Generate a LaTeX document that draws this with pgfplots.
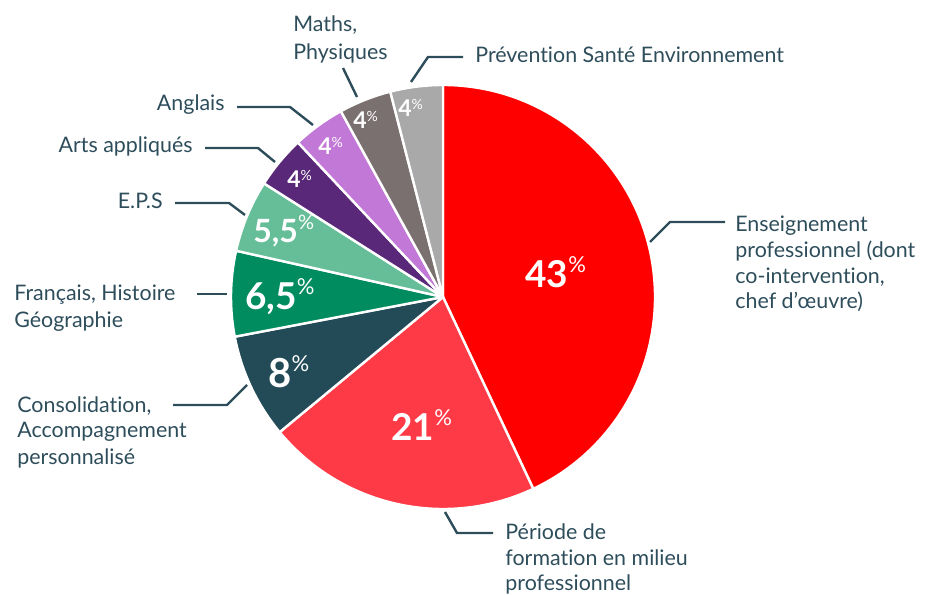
\documentclass[border=0pt]{standalone}
\usepackage{fontspec}
\setmainfont{Lato}[Ligatures={NoCommon}]
\usepackage{pgfplots}
\usepackage{pgfplotstable}
\pgfplotsset{compat=1.18}
\definecolor{c1}{HTML}{FF0000}
\definecolor{c2}{HTML}{FF3A47}
\definecolor{c3}{HTML}{234B57}
\definecolor{c4}{HTML}{008C5F}
\definecolor{c5}{HTML}{66BE99}
\definecolor{c6}{HTML}{5A2878}
\definecolor{c7}{HTML}{C278D6}
\definecolor{c8}{HTML}{7A7070}
\definecolor{c9}{HTML}{A9A9A9}
\definecolor{txt}{HTML}{2E4D5B}
\pgfplotstableread{
value color
43 c1
21 c2
8 c3
6.5 c4
5.5 c5
4 c6
4 c7
4 c8
4 c9
}\piedata
\newcommand\pct[5]{\node[anchor=base west, inner sep=0pt, text=white, font=\bfseries\fontsize{#3}{#3}\selectfont] at (axis cs:#1) {#2\raisebox{#5}{\mdseries\fontsize{#4}{#4}\selectfont\%}};}
\newcommand\lab[3]{\node[anchor=base #1, inner sep=0pt, text=txt, font=\fontsize{10.7}{12}\selectfont] at (axis cs:#2) {#3};}
\begin{document}
\begin{tikzpicture}
\begin{axis}[name=ax, scale only axis, width=468pt, height=297pt,
  xmin=0, xmax=936, ymin=0, ymax=594, hide axis, clip=false]
\pgfplotsextra{
  \pgfplotstablegetrowsof{\piedata}
  \pgfmathtruncatemacro\nrows{\pgfplotsretval-1}
  \xdef\startang{90}
  \foreach \i in {0,...,\nrows}{
    \pgfplotstablegetelem{\i}{value}\of\piedata \let\v\pgfplotsretval
    \pgfplotstablegetelem{\i}{color}\of\piedata \let\c\pgfplotsretval
    \pgfmathsetmacro\endang{\startang-3.6*\v}
    \fill[fill=\c, draw=white, line width=1.2pt, line join=round]
      (axis cs:443,297) -- ++(\startang:106pt)
      arc[start angle=\startang, end angle=\endang, radius=106pt] -- cycle;
    \xdef\startang{\endang}
  }
}
% percentages
\pct{525,306}{43}{18.5}{11}{7.5pt}
\pct{391,154}{21}{18.5}{11}{7.5pt}
\pct{268,206}{8}{20}{11}{8pt}
\pct{245,284}{6,5}{18.5}{11}{7.5pt}
\pct{253,351}{5,5}{16}{10}{6.5pt}
\pct{287,406}{4}{11.5}{7}{3.5pt}
\pct{318,439}{4}{11.5}{7}{3.5pt}
\pct{353,465}{4}{11.5}{7}{3.5pt}
\pct{398,477}{4}{11.5}{7}{3.5pt}
% leader lines
\begin{scope}[draw=txt, line width=1.2pt]
\draw (axis cs:411,512) -- (axis cs:428,537) -- (axis cs:463,537);
\draw (axis cs:357,497) -- (axis cs:343,526);
\draw (axis cs:237,487) -- (axis cs:290,487) -- (axis cs:313,469);
\draw (axis cs:205,446) -- (axis cs:258,446) -- (axis cs:275,432);
\draw (axis cs:175,391) -- (axis cs:229,391) -- (axis cs:245,379);
\draw (axis cs:197,300) -- (axis cs:227,300);
\draw (axis cs:173,189) -- (axis cs:227,189) -- (axis cs:247,209);
\draw (axis cs:445,82) -- (axis cs:457,61) -- (axis cs:493,61);
\draw (axis cs:650,352) -- (axis cs:670,372) -- (axis cs:725,372);
\end{scope}
% labels
\lab{west}{293,562}{Maths,}
\lab{west}{293,534}{Physiques}
\lab{west}{475,531}{Prévention Santé Environnement}
\lab{east}{225,483}{Anglais}
\lab{east}{193,441}{Arts appliqués}
\lab{east}{163,385}{E.P.S}
\lab{west}{14,293}{Français, Histoire}
\lab{west}{14,266}{Géographie}
\lab{west}{17,182}{Consolidation,}
\lab{west}{17,156}{Accompagnement}
\lab{west}{17,130}{personnalisé}
\lab{west}{505,55}{Période de}
\lab{west}{505,29}{formation en milieu}
\lab{west}{505,4}{professionnel}
\lab{west}{735,362}{Enseignement}
\lab{west}{735,336}{professionnel (dont}
\lab{west}{735,310}{co-intervention,}
\lab{west}{735,285}{chef d’œuvre)}
\end{axis}
\pgfresetboundingbox
\useasboundingbox (ax.south west) rectangle (ax.north east);
\end{tikzpicture}
\end{document}
